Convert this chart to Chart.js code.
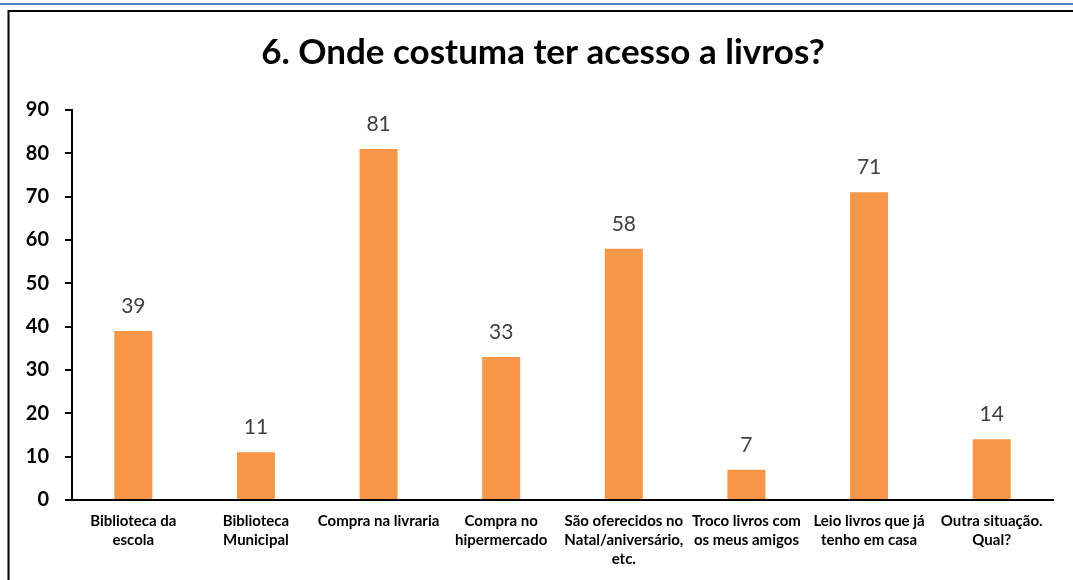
<!DOCTYPE html>
<html>
<head>
<meta charset="utf-8">
<script src="https://cdn.jsdelivr.net/npm/chart.js@4/dist/chart.umd.min.js"></script>
<style>
  html, body { margin: 0; padding: 0; background: #fff; }
  #wrap { width: 1073px; height: 580px; position: relative; }
</style>
</head>
<body>
<div id="wrap"><canvas id="chart" width="1073" height="580"></canvas></div>
<script>
// Survey question and answers
const chartTitle = '6. Onde costuma ter acesso a livros?';
const categories = [
  ['Biblioteca da', 'escola'],
  ['Biblioteca', 'Municipal'],
  ['Compra na livraria'],
  ['Compra no', 'hipermercado'],
  ['São oferecidos no', 'Natal/aniversário,', 'etc.'],
  ['Troco livros com', 'os meus amigos'],
  ['Leio livros que já', 'tenho em casa'],
  ['Outra situação.', 'Qual?']
];
const responses = [39, 11, 81, 33, 58, 7, 71, 14];
const yTicks = [0, 10, 20, 30, 40, 50, 60, 70, 80, 90];

const FONT = 'Lato, "Open Sans", sans-serif';

// Page frame (blue rule + black box) and the chart heading
const framePlugin = {
  id: 'frame',
  beforeDraw(chart) {
    const ctx = chart.ctx;
    ctx.save();
    ctx.fillStyle = '#ffffff';
    ctx.fillRect(0, 0, chart.width, chart.height);
    ctx.strokeStyle = '#4F81BD';
    ctx.lineWidth = 2;
    ctx.beginPath();
    ctx.moveTo(0, 4);
    ctx.lineTo(chart.width, 4);
    ctx.stroke();
    ctx.strokeStyle = '#000000';
    ctx.lineWidth = 2;
    ctx.strokeRect(8.5, 11, chart.width + 20, chart.height + 20);

    ctx.fillStyle = '#000000';
    ctx.font = 'bold 35px ' + FONT;
    ctx.textAlign = 'center';
    ctx.textBaseline = 'alphabetic';
    ctx.fillText(chartTitle, 543, 64);
    ctx.restore();
  }
};

// Value printed above every bar
const valueLabels = {
  id: 'valueLabels',
  afterDatasetsDraw(chart) {
    const ctx = chart.ctx;
    const meta = chart.getDatasetMeta(0);
    const data = chart.data.datasets[0].data;
    ctx.save();
    ctx.font = '21px ' + FONT;
    ctx.fillStyle = '#404040';
    ctx.textAlign = 'center';
    ctx.textBaseline = 'alphabetic';
    meta.data.forEach((bar, i) => {
      ctx.fillText(String(data[i]), bar.x, bar.y - 18);
    });
    ctx.restore();
  }
};

new Chart(document.getElementById('chart'), {
  type: 'bar',
  data: {
    labels: categories,
    datasets: [{
      data: responses,
      backgroundColor: '#F79646',
      borderWidth: 0,
      categoryPercentage: 1,
      barPercentage: 0.31
    }]
  },
  options: {
    responsive: false,
    animation: false,
    devicePixelRatio: 1,
    layout: {
      autoPadding: false,
      padding: { left: 0, right: 20, top: 110, bottom: 0 }
    },
    plugins: {
      legend: { display: false },
      tooltip: { enabled: false },
      title: { display: false }
    },
    scales: {
      x: {
        afterFit(scale) { scale.height = 80; },
        grid: { display: true, drawOnChartArea: false, drawTicks: false },
        border: { display: true, color: '#000000', width: 2 },
        ticks: {
          color: '#000000',
          font: { family: FONT, size: 15, weight: 'bold', lineHeight: 1.27 },
          padding: 12,
          maxRotation: 0,
          minRotation: 0,
          autoSkip: false
        }
      },
      y: {
        min: 0,
        max: 90,
        afterFit(scale) { scale.width = 72; },
        afterBuildTicks(scale) { scale.ticks = yTicks.map(v => ({ value: v })); },
        grid: { display: true, drawOnChartArea: false, color: '#000000', lineWidth: 2, tickLength: 7 },
        border: { display: true, color: '#000000', width: 2 },
        ticks: {
          color: '#000000',
          font: { family: FONT, size: 20, weight: 'bold' },
          padding: 16
        }
      }
    }
  },
  plugins: [framePlugin, valueLabels]
});
</script>
</body>
</html>
